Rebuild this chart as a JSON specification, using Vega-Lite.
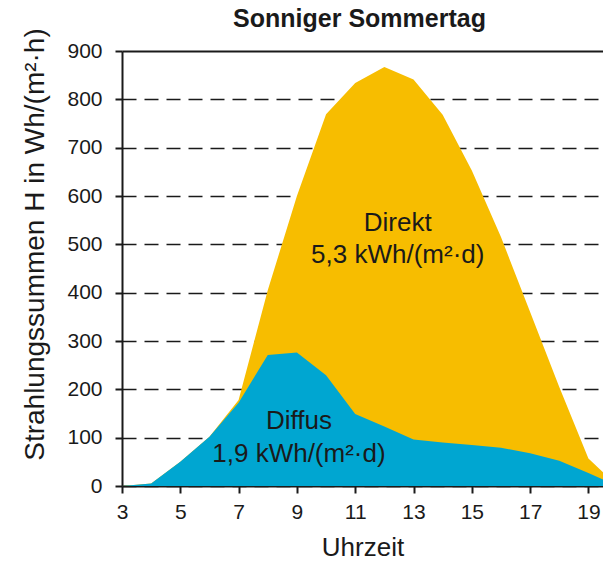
{
  "$schema": "https://vega.github.io/schema/vega-lite/v6.json",
  "width": 481,
  "height": 435,
  "autosize": {"type": "none"},
  "padding": {"left": 122, "top": 51, "right": 0, "bottom": 75},
  "background": "white",
  "config": {"view": {"stroke": null}, "font": "Liberation Sans"},
  "title": {
    "text": "Sonniger Sommertag",
    "fontSize": 25,
    "font": "Liberation Sans",
    "fontWeight": "bold",
    "color": "#1a1a1a",
    "anchor": "middle",
    "baseline": "alphabetic",
    "offset": 4,
    "dy": 28,
    "dx": -3
  },
  "datasets": {
    "rad": [
      {"hour": 3, "total": 0, "diffus": 0},
      {"hour": 4, "total": 5, "diffus": 5},
      {"hour": 5, "total": 50, "diffus": 50},
      {"hour": 6, "total": 102, "diffus": 102},
      {"hour": 7, "total": 178, "diffus": 172},
      {"hour": 8, "total": 405, "diffus": 271},
      {"hour": 9, "total": 600, "diffus": 276},
      {"hour": 10, "total": 769, "diffus": 229},
      {"hour": 11, "total": 834, "diffus": 149},
      {"hour": 12, "total": 867, "diffus": 123},
      {"hour": 13, "total": 841, "diffus": 96},
      {"hour": 14, "total": 768, "diffus": 90},
      {"hour": 15, "total": 653, "diffus": 85},
      {"hour": 16, "total": 515, "diffus": 79},
      {"hour": 17, "total": 360, "diffus": 68},
      {"hour": 18, "total": 205, "diffus": 52},
      {"hour": 19, "total": 57, "diffus": 27},
      {"hour": 20, "total": 0, "diffus": 0}
    ],
    "labels": [
      {"hour": 12.46, "value": 527, "text": "Direkt"},
      {"hour": 12.46, "value": 461, "text": "5,3 kWh/(m²·d)"},
      {"hour": 9.07, "value": 117, "text": "Diffus"},
      {"hour": 9.07, "value": 50, "text": "1,9 kWh/(m²·d)"}
    ]
  },
  "layer": [
    {
      "data": {"name": "rad"},
      "mark": {"type": "area", "color": "#F7BD00", "clip": true},
      "encoding": {
        "x": {
          "field": "hour",
          "type": "quantitative",
          "scale": {"domain": [3, 19.5], "nice": false, "zero": false},
          "axis": {
            "values": [3, 4, 5, 6, 7, 8, 9, 10, 11, 12, 13, 14, 15, 16, 17, 18, 19],
            "labelExpr": "datum.value % 2 == 1 ? datum.label : ''",
            "grid": false,
            "domainColor": "#1a1a1a",
            "domainWidth": 2,
            "tickColor": "#1a1a1a",
            "tickWidth": 2,
            "tickSize": 7,
            "labelFontSize": 21,
            "labelColor": "#1a1a1a",
            "labelPadding": 8,
            "labelFlush": false,
            "labelOverlap": false,
            "title": "Uhrzeit",
            "titleFontSize": 26,
            "titleFontWeight": "normal",
            "titleColor": "#1a1a1a",
            "titleBaseline": "alphabetic",
            "titleY": 69
          }
        },
        "y": {
          "field": "total",
          "type": "quantitative",
          "scale": {"domain": [0, 900], "nice": false},
          "axis": {
            "values": [0, 100, 200, 300, 400, 500, 600, 700, 800, 900],
            "grid": true,
            "gridColor": "#1a1a1a",
            "gridWidth": {"condition": {"test": "datum.value === 900", "value": 2}, "value": 1.4},
            "gridDash": {"condition": {"test": "datum.value === 900", "value": []}, "value": [14, 8]},
            "domainColor": "#1a1a1a",
            "domainWidth": 2,
            "tickColor": "#1a1a1a",
            "tickWidth": 2,
            "tickSize": 7,
            "labelFontSize": 21,
            "labelColor": "#1a1a1a",
            "labelPadding": 13,
            "title": "Strahlungssummen H in Wh/(m²·h)",
            "titleFontSize": 28,
            "titleFontWeight": "normal",
            "titleColor": "#1a1a1a",
            "titleBaseline": "alphabetic",
            "titleAlign": "center",
            "titleX": -79,
            "titleY": 193
          }
        }
      }
    },
    {
      "data": {"name": "rad"},
      "mark": {"type": "area", "color": "#00A6D1", "clip": true},
      "encoding": {
        "x": {"field": "hour", "type": "quantitative"},
        "y": {"field": "diffus", "type": "quantitative"}
      }
    },
    {
      "data": {"name": "labels"},
      "mark": {"type": "text", "fontSize": 26, "align": "center", "baseline": "alphabetic", "color": "#1a1a1a", "font": "Liberation Sans"},
      "encoding": {
        "x": {"field": "hour", "type": "quantitative"},
        "y": {"field": "value", "type": "quantitative"},
        "text": {"field": "text"}
      }
    }
  ]
}
